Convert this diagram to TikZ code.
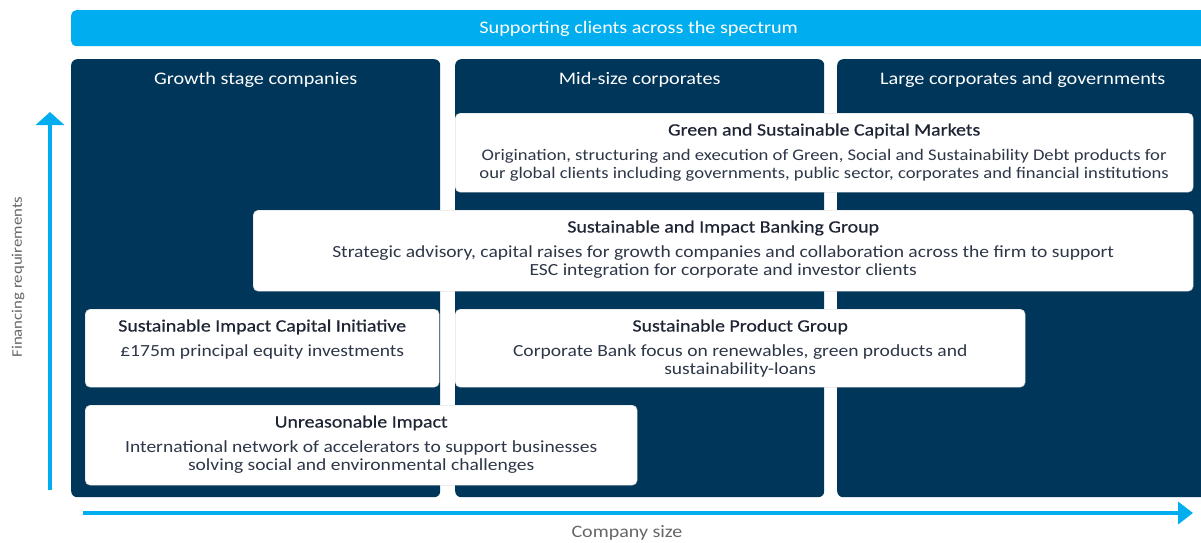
\documentclass[tikz,border=0pt]{standalone}
\usepackage{fontspec}
\setmainfont{Carlito}[FakeStretch=1.15]
\newfontfamily\titlefont{Carlito}[FakeStretch=1.15,FakeBold=0.5]
\usetikzlibrary{arrows.meta,positioning}
\definecolor{sky}{HTML}{00AEEF}
\definecolor{navy}{HTML}{00365A}
\definecolor{ink}{HTML}{1E2433}
\definecolor{inkgray}{HTML}{2E3748}
\begin{document}
\begin{tikzpicture}[
  x=1pt,y=-1pt,
  font=\fontsize{17}{18}\selectfont,
  banner/.style={fill=sky,rounded corners=5pt,inner sep=0pt,anchor=north west},
  panel/.style={fill=navy,rounded corners=6pt,inner sep=0pt,anchor=north west},
  head/.style={text=white,inner sep=0pt,anchor=base,font=\fontsize{17.6}{18}\selectfont},
  card/.style={fill=white,draw=black!20,rounded corners=5pt,inner sep=0pt,anchor=north west},
  cardtitle/.style={text=ink,inner sep=0pt,anchor=base,font=\titlefont\fontsize{17.3}{18}\selectfont},
  cardbody/.style={text=inkgray,align=center,inner sep=0pt,anchor=north},
  axis/.style={sky,line width=4.5pt},
  axislabel/.style={text=black!60,inner sep=0pt,anchor=base,font=\fontsize{17.4}{18}\selectfont}
]
% page size of the reference
\useasboundingbox (0,0) rectangle (1201,542);

% top banner
\node[banner,minimum width=1137pt,minimum height=36pt] (spectrum) at (71,10) {};
\path (spectrum.north) ++(-1,23.5) node[head] (spectrumtext) {Supporting clients across the spectrum};

% three client segments
\foreach \px/\pw/\name/\label in {71/369/growth/Growth stage companies,
    455/369/mid/Mid-size corporates,
    837/371/large/Large corporates and governments} {
  \node[panel,minimum width=\pw*1pt,minimum height=438pt] (\name) at (\px,59) {};
  \path (\name.north) ++(0,25) node[head] (\name head) {\label};
}

% helper: white box with title and description
% (body starts with a strut: its top lies 12.6pt above the first baseline)
\newcommand{\infobox}[8][]{%
  \node[card,minimum width=#5*1pt,minimum height=#6*1pt] (#2) at (#3,#4) {};
  \path (#2.north) ++(0,22.5) node[cardtitle] (#2title) {#7};
  \path (#2.north) ++(0,34.9) node[cardbody,#1] (#2body) {\strut#8};}

\infobox[font=\fontsize{16.2}{18}\selectfont]{gscm}{455}{113}{738}{79}{Green and Sustainable Capital Markets}
  {Origination, structuring and execution of Green, Social and Sustainability Debt products for\\
   our global clients including governments, public sector, corporates and financial institutions}
\infobox{sibg}{253}{210}{940}{81}{Sustainable and Impact Banking Group}
  {Strategic advisory, capital raises for growth companies and collaboration across the firm to support\\
   ESC integration for corporate and investor clients}
\infobox{sici}{85}{309}{354}{78}{Sustainable Impact Capital Initiative}
  {£175m principal equity investments}
\infobox{spg}{455}{309}{570}{78}{Sustainable Product Group}
  {Corporate Bank focus on renewables, green products and\\ sustainability-loans}
\infobox{unreas}{85}{405}{552}{80}{Unreasonable Impact}
  {International network of accelerators to support businesses\\
   solving social and environmental challenges}

% axes
\coordinate (ybase) at (50,490);
\coordinate (ytip)  at (50,112);
\coordinate (xbase) at (83,513);
\coordinate (xtip)  at (1193,513);
\draw[axis,-{Triangle[width=28pt,length=13pt]}] (ybase) -- (ytip);
\draw[axis,-{Triangle[width=22pt,length=15pt]}] (xbase) -- (xtip);
\path (18,277) node[axislabel,rotate=90,anchor=center,font=\fontsize{14.6}{18}\selectfont] (ylabel) {Financing requirements};
\path (627,537) node[axislabel] (xlabel) {Company size};
\end{tikzpicture}
\end{document}
